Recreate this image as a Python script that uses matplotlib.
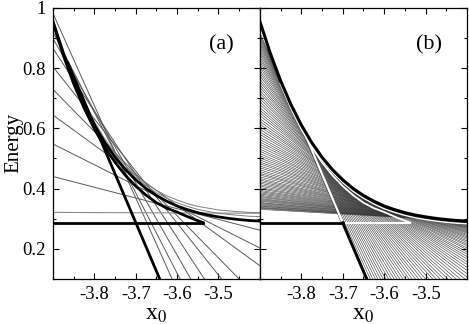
import matplotlib
matplotlib.use("Agg")
import matplotlib.pyplot as plt
from matplotlib.ticker import MultipleLocator, FixedLocator, FixedFormatter

x_edges = [-3.9, -3.4]

# panel (a): thin straight lines, value at left edge / right edge
a_left = [0.981, 0.92, 0.898, 0.865, 0.804, 0.729, 0.644, 0.548, 0.44]
a_right = [-0.549, -0.415, -0.30, -0.18, -0.06, 0.03, 0.144, 0.203, 0.262]
a_flat = [0.321, 0.318]

# upper energy curve (both panels) and the two grey curves just above it in (a)
curve_x = [-3.9, -3.875, -3.85, -3.825, -3.8, -3.775, -3.75, -3.725, -3.7, -3.675, -3.65,
           -3.625, -3.6, -3.575, -3.55, -3.525, -3.5, -3.475, -3.45, -3.425, -3.4]
upper = [0.955, 0.850, 0.758, 0.679, 0.611, 0.553, 0.504, 0.463, 0.429, 0.400, 0.377,
         0.358, 0.342, 0.330, 0.320, 0.312, 0.306, 0.301, 0.297, 0.294, 0.292]
grey1 = [0.958, 0.854, 0.763, 0.684, 0.617, 0.559, 0.511, 0.470, 0.437, 0.409, 0.386,
         0.368, 0.353, 0.341, 0.331, 0.324, 0.318, 0.314, 0.311, 0.308, 0.307]
grey2 = [0.961, 0.857, 0.767, 0.689, 0.622, 0.565, 0.517, 0.477, 0.444, 0.416, 0.394,
         0.376, 0.362, 0.350, 0.341, 0.335, 0.329, 0.326, 0.323, 0.321, 0.320]
# white trace just under the upper curve in (b)
under_x = curve_x[2:]
under = [0.749, 0.670, 0.602, 0.544, 0.495, 0.454, 0.420, 0.391, 0.368, 0.349, 0.333,
         0.321, 0.311, 0.303, 0.297, 0.292, 0.288, 0.285, 0.283]

# lower energy curve, ends on the horizontal level
lower_x = [-3.9, -3.875, -3.85, -3.825, -3.8, -3.775, -3.75, -3.725, -3.7, -3.675, -3.65,
           -3.625, -3.6, -3.575, -3.555, -3.537]
lower = [0.95, 0.842, 0.748, 0.668, 0.598, 0.538, 0.487, 0.444, 0.408, 0.378, 0.353,
         0.335, 0.322, 0.307, 0.296, 0.287]

# thick straight line and horizontal level, split where they cross
steep_x = [-3.864, -3.7, -3.642]
steep_y = [0.817, 0.287, 0.1]
level_x = [-3.9, -3.7, -3.537]
level_y = 0.287

# panel (b): fan of lines, value at left edge / right edge
b_left = [0.918, 0.912, 0.906, 0.899, 0.892, 0.885, 0.878, 0.870, 0.862, 0.854, 0.846, 0.837,
          0.829, 0.820, 0.811, 0.802, 0.792, 0.783, 0.774, 0.764, 0.755, 0.745, 0.736, 0.726,
          0.717, 0.707, 0.698, 0.688, 0.679, 0.669, 0.660, 0.651, 0.642, 0.632, 0.623, 0.614,
          0.606, 0.597, 0.588, 0.580, 0.571, 0.563, 0.555, 0.547, 0.539, 0.531, 0.524, 0.516,
          0.509, 0.502, 0.495, 0.488, 0.482, 0.475, 0.469, 0.462, 0.456, 0.450, 0.445, 0.439,
          0.433, 0.428, 0.423, 0.418, 0.413, 0.408, 0.403, 0.399, 0.394, 0.390, 0.386, 0.382,
          0.378, 0.374, 0.371, 0.367, 0.364, 0.361, 0.358, 0.354, 0.352, 0.349, 0.346, 0.343,
          0.341, 0.338, 0.336, 0.334, 0.331]
b_right = [-0.688, -0.647, -0.607, -0.568, -0.530, -0.494, -0.459, -0.425, -0.393, -0.361,
           -0.331, -0.301, -0.273, -0.246, -0.219, -0.194, -0.170, -0.147, -0.124, -0.103,
           -0.082, -0.062, -0.043, -0.025, -0.008, 0.009, 0.024, 0.040, 0.054, 0.068, 0.081,
           0.094, 0.106, 0.117, 0.128, 0.138, 0.148, 0.157, 0.166, 0.174, 0.182, 0.189, 0.197,
           0.203, 0.210, 0.215, 0.221, 0.226, 0.231, 0.236, 0.240, 0.244, 0.248, 0.252, 0.255,
           0.258, 0.261, 0.264, 0.267, 0.269, 0.271, 0.273, 0.275, 0.277, 0.278, 0.280, 0.281,
           0.282, 0.284, 0.285, 0.286, 0.286, 0.287, 0.288, 0.288, 0.289, 0.290, 0.290, 0.290,
           0.291, 0.291, 0.291, 0.291, 0.291, 0.292, 0.292, 0.292, 0.292, 0.292]

x_ticks = [-3.8, -3.7, -3.6, -3.5]
x_labels = ['-3.8', '-3.7', '-3.6', '-3.5']
y_ticks = [0.2, 0.4, 0.6, 0.8, 1.0]
y_labels = ['0.2', '0.4', '0.6', '0.8', '1']

plt.rcParams['font.family'] = ['Liberation Serif', 'DejaVu Serif']
plt.rcParams['mathtext.fontset'] = 'stix'

fig = plt.figure(figsize=(4.69, 3.24), dpi=100)
axa = fig.add_axes([0.113, 0.139, 0.441, 0.837])
axb = fig.add_axes([0.554, 0.139, 0.442, 0.837])

# --- panel (a)
for yl, yr in zip(a_left, a_right):
    axa.plot(x_edges, [yl, yr], color='0.35', lw=0.7)
axa.plot(x_edges, a_flat, color='0.55', lw=0.8)
axa.plot(curve_x, grey1, color='0.5', lw=0.7)
axa.plot(curve_x, grey2, color='0.5', lw=0.7)
axa.plot(curve_x, upper, color='k', lw=2.0)
axa.plot(lower_x, lower, color='k', lw=2.0)
axa.plot([steep_x[0], steep_x[-1]], [steep_y[0], steep_y[-1]], color='k', lw=2.0)
axa.plot([level_x[0], level_x[-1]], [level_y, level_y], color='k', lw=2.0)

# --- panel (b)
for yl, yr in zip(b_left, b_right):
    axb.plot(x_edges, [yl, yr], color='0.2', lw=0.4)
axb.plot(lower_x[2:], lower[2:], color='w', lw=1.3)
axb.plot(steep_x[:2], steep_y[:2], color='w', lw=1.5)
axb.plot(level_x[1:], [level_y, level_y], color='w', lw=1.5)
axb.plot(under_x, under, color='w', lw=1.0)
axb.plot(curve_x, upper, color='k', lw=2.2)
axb.plot(level_x[:2], [level_y, level_y], color='k', lw=2.0)
axb.plot(steep_x[1:], steep_y[1:], color='k', lw=2.0)

for ax, tag in ((axa, '(a)'), (axb, '(b)')):
    ax.set_xlim(-3.9, -3.4)
    ax.set_ylim(0.1, 1.0)
    ax.xaxis.set_major_locator(FixedLocator(x_ticks))
    ax.xaxis.set_major_formatter(FixedFormatter(x_labels))
    ax.xaxis.set_minor_locator(MultipleLocator(0.05))
    ax.yaxis.set_major_locator(FixedLocator(y_ticks))
    ax.yaxis.set_minor_locator(MultipleLocator(0.1))
    ax.tick_params(which='both', direction='in', top=True, right=True, width=0.8, labelsize=13.5)
    ax.tick_params(which='major', length=4.5, pad=5)
    ax.tick_params(which='minor', length=2.5)
    for s in ax.spines.values():
        s.set_linewidth(0.9)
    ax.set_xlabel('x$_0$', fontsize=17, labelpad=1)
    ax.text(-3.492, 0.876, tag, fontsize=16, ha='center', va='center')

axa.yaxis.set_major_formatter(FixedFormatter(y_labels))
axa.set_ylabel('Energy', fontsize=15)
axa.yaxis.set_label_coords(-0.145, 0.5)
axb.tick_params(labelleft=False)

fig.savefig("out.png")
